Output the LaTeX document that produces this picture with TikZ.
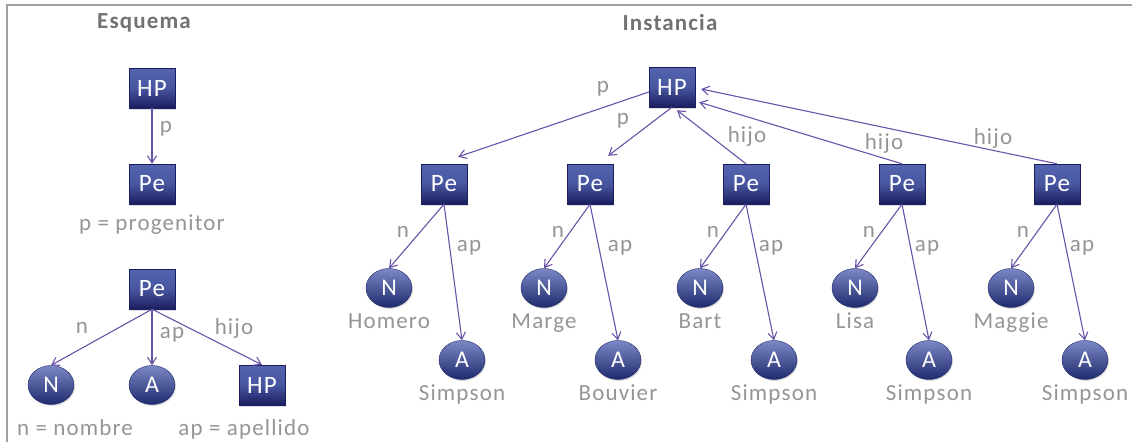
\documentclass[tikz,border=0pt]{standalone}
\usepackage{fontspec}
\setmainfont{Carlito}[LetterSpace=5]
\definecolor{boxtop}{HTML}{5464B0}
\definecolor{boxbot}{HTML}{1A1E5E}
\definecolor{balltop}{HTML}{7C88C6}
\definecolor{ballbot}{HTML}{1E2A6C}
\definecolor{linkcol}{HTML}{6A52A8}
\definecolor{lblgray}{HTML}{959595}
\definecolor{titlegray}{HTML}{727272}
\definecolor{framegray}{HTML}{A0A0A0}
\usetikzlibrary{arrows.meta,positioning,shapes.geometric,shadows}

\begin{document}
\begin{tikzpicture}[x=1pt, y=-1pt,
    every node/.style={font=\fontsize{23}{26}\selectfont},
    box/.style={rectangle, top color=boxtop, bottom color=boxbot, middle color=boxtop!80!boxbot,
                draw=boxbot, minimum width=46pt, minimum height=40pt, inner sep=0pt, text=white,
                font=\fontsize{25}{28}\selectfont,
                drop shadow={opacity=0.25, shadow xshift=1pt, shadow yshift=-1.5pt}},
    ball/.style={ellipse, top color=balltop, bottom color=ballbot, draw=ballbot,
                minimum width=46pt, minimum height=39pt, inner sep=0pt, text=white,
                font=\fontsize{24}{27}\selectfont,
                drop shadow={opacity=0.25, shadow xshift=1pt, shadow yshift=-1.5pt}},
    link/.style={-{Straight Barb[length=7pt,width=9pt]}, linkcol, line width=1.1pt},
    lbl/.style={text=lblgray, inner sep=0pt},
    vallbl/.style={lbl, text height=15pt, text depth=4pt},
    headlbl/.style={text=titlegray, font=\fontsize{23}{26}\selectfont\bfseries}
]
    \useasboundingbox (0,0) rectangle (1132,442);
    \draw[framegray, line width=1.2pt] (7,442) -- (7,5) -- (1132,5);

    \node[headlbl] (tesq) at (144,23) {Esquema};
    \node[headlbl] (tins) at (670,23) {Instancia};

    % esquema: progenitor
    \node[box] (shp) at (152,88) {HP};
    \node[box] (spe) at (152,184) {Pe};
    \draw[link] (shp) -- (spe);
    \node[lbl] (lp) at (166,129) {p};
    \node[vallbl, below=11pt of spe] (lprog) {p = progenitor};

    % esquema: nombre, apellido, hijo
    \node[box] (spe2) at (152,289) {Pe};
    \node[ball] (sn) at (51,385) {N};
    \node[ball] (sa) at (152,385) {A};
    \node[box] (shp2) at (262,385) {HP};
    \draw[link] (spe2.south) -- (sn.north);
    \draw[link] (spe2.south) -- (sa.north);
    \draw[link] (spe2.south) -- (shp2.north);
    \node[lbl] (ln) at (82,328) {n};
    \node[lbl] (lap) at (172,335) {ap};
    \node[lbl] (lhijo) at (234,328) {hijo};
    \node[vallbl, anchor=base] (lnom) at (75,435) {n = nombre};
    \node[vallbl, anchor=base] (lape) at (244,435) {ap = apellido};

    % instancia
    \node[box] (hp) at (672,87) {HP};
    \node[box] (pe1) at (444,184) {Pe};
    \node[box] (pe2) at (590,184) {Pe};
    \node[box] (pe3) at (746,184) {Pe};
    \node[box] (pe4) at (902,184) {Pe};
    \node[box] (pe5) at (1057,184) {Pe};

    \draw[link] ([yshift=-5pt]hp.west) -- ([xshift=-9pt,yshift=7pt]pe1.north east);
    \draw[link] (hp.south) -- ([xshift=-5pt,yshift=8pt]pe2.north east);
    \draw[link] (pe3.north) -- ([xshift=5pt,yshift=-3pt]hp.south);
    \draw[link] (pe4.north) -- ([xshift=4pt,yshift=5pt]hp.south east);
    \draw[link] (pe5.north) -- ([xshift=6pt,yshift=-2pt]hp.east);
    \node[lbl] (lp1) at (603,89) {p};
    \node[lbl] (lp2) at (623,121) {p};
    \node[lbl] (lh3) at (747,136) {hijo};
    \node[lbl] (lh4) at (884,143) {hijo};
    \node[lbl] (lh5) at (993,138) {hijo};

    \node[ball] (n1) at (389,288) {N};
    \node[ball] (n2) at (544,288) {N};
    \node[ball] (n3) at (700,288) {N};
    \node[ball] (n4) at (855,288) {N};
    \node[ball] (n5) at (1011,288) {N};
    \node[ball] (a1) at (462,360) {A};
    \node[ball] (a2) at (618,360) {A};
    \node[ball] (a3) at (774,360) {A};
    \node[ball] (a4) at (929,360) {A};
    \node[ball] (a5) at (1085,360) {A};

    \draw[link] (pe1.south) -- (n1.north);
    \draw[link] (pe1.south) -- (a1.north);
    \draw[link] (pe2.south) -- (n2.north);
    \draw[link] (pe2.south) -- (a2.north);
    \draw[link] (pe3.south) -- (n3.north);
    \draw[link] (pe3.south) -- (a3.north);
    \draw[link] (pe4.south) -- (n4.north);
    \draw[link] (pe4.south) -- (a4.north);
    \draw[link] (pe5.south) -- (n5.north);
    \draw[link] (pe5.south) -- (a5.north);

    \node[lbl] (ln1) at (403,232) {n};
    \node[lbl] (ln2) at (558,232) {n};
    \node[lbl] (ln3) at (713,232) {n};
    \node[lbl] (ln4) at (869,232) {n};
    \node[lbl] (ln5) at (1023,232) {n};
    \node[lbl] (lap1) at (469,248) {ap};
    \node[lbl] (lap2) at (620,248) {ap};
    \node[lbl] (lap3) at (771,248) {ap};
    \node[lbl] (lap4) at (927,248) {ap};
    \node[lbl] (lap5) at (1082,248) {ap};

    \node[vallbl, below=6pt of n1] (nom1) {Homero};
    \node[vallbl, below=6pt of n2] (nom2) {Marge};
    \node[vallbl, below=6pt of n3] (nom3) {Bart};
    \node[vallbl, below=6pt of n4] (nom4) {Lisa};
    \node[vallbl, below=6pt of n5] (nom5) {Maggie};
    \node[vallbl, below=6pt of a1] (ape1) {Simpson};
    \node[vallbl, below=6pt of a2] (ape2) {Bouvier};
    \node[vallbl, below=6pt of a3] (ape3) {Simpson};
    \node[vallbl, below=6pt of a4] (ape4) {Simpson};
    \node[vallbl, below=6pt of a5] (ape5) {Simpson};
\end{tikzpicture}
\end{document}
